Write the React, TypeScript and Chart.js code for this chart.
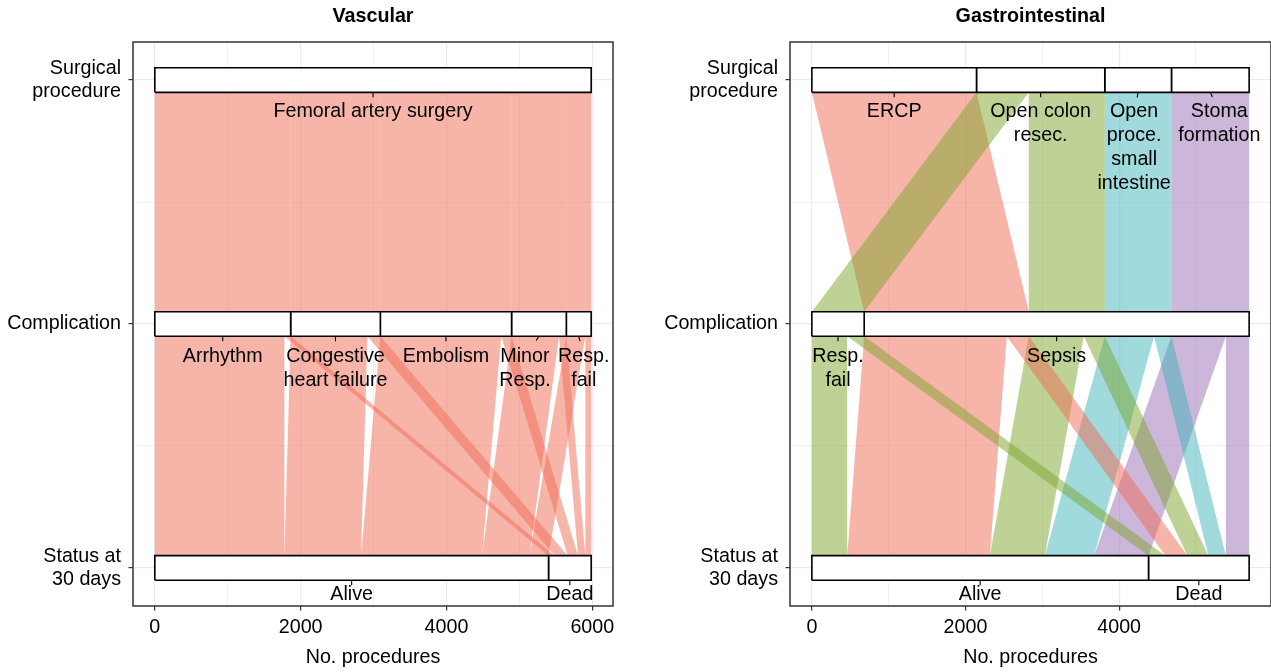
import React, { useEffect, useRef } from 'react';
import { Chart, registerables } from 'chart.js';

Chart.register(...registerables);

// ---------------- data ----------------
const axisTickLabels: (string | string[])[] = [['Surgical', 'procedure'], 'Complication', ['Status at', '30 days']];
const xTickValues = [0, 1000, 2000, 3000, 4000, 5000, 6000];
const xAxisTitle = 'No. procedures';

// Vascular panel
const vascTitle = 'Vascular';
const vascSurgery = ['Femoral artery surgery'];
const vascComplication = ['Arrhythm', 'Congestive\nheart failure', 'Embolism', 'Minor\nResp.', 'Resp.\nfail'];
const vascStatus = ['Alive', 'Dead'];
const vascAliveByComplication = [1777, 1052, 1659, 651, 261];
const vascDeadByComplication = [86, 178, 141, 100, 80];

// Gastrointestinal panel: one entry per alluvium
const giTitle = 'Gastrointestinal';
const giSurgery = ['ERCP', 'Open colon\nresec.', 'Open\nproce.\nsmall\nintestine', 'Stoma\nformation'];
const giComplication = ['Resp.\nfail', 'Sepsis'];
const giStatus = ['Alive', 'Dead'];
const giAlluviumSurgery = [1, 1, 0, 0, 1, 1, 2, 2, 3, 3];
const giAlluviumComplication = [0, 0, 1, 1, 1, 1, 1, 1, 1, 1];
const giAlluviumStatus = [0, 1, 0, 1, 0, 1, 0, 1, 0, 1];
const giAlluviumCount = [460, 221, 1857, 286, 716, 273, 641, 227, 708, 303];

// ---------------- style ----------------
const FONT = "'Liberation Sans', Arial, Helvetica, sans-serif";
const FS = 19.7;
const LINE_H = 24;
const BOX_H = 0.0505;
const Y_PAD = 0.156;
const LABEL_OFFSET = [19, 20.5, 14.5];
const SEG_LEN = 5;
const HUES = ['rgba(239,107,85,0.5)', 'rgba(125,165,45,0.5)', 'rgba(65,181,185,0.5)', 'rgba(153,109,181,0.5)'];
const vascNudge = [[0], [0, 0, 0, -14, 5], [0, 0]];
const giNudge = [[0, 0, -4, 9], [0, 0], [0, 0]];

Chart.defaults.font.family = FONT;

type Alluvium = { s: number[]; n: number };

function cmp(a: number[], b: number[]) {
  for (let i = 0; i < a.length; i++) if (a[i] !== b[i]) return a[i] - b[i];
  return 0;
}

function buildPanel(alluvia: Alluvium[], strata: string[][], colors: string[], nudges: number[][]) {
  const total = alluvia.reduce((p, a) => p + a.n, 0);
  const datasets: any[] = [];
  const labels: any[] = [];
  strata.forEach((names, j) => {
    const level = 2 - j;
    let start = 0;
    names.forEach((name, k) => {
      const size = alluvia.filter((a) => a.s[j] === k).reduce((p, a) => p + a.n, 0);
      const end = start + size;
      datasets.push({
        data: [
          { x: start, y: level - BOX_H },
          { x: end, y: level - BOX_H },
          { x: end, y: level + BOX_H },
          { x: start, y: level + BOX_H },
          { x: start, y: level - BOX_H },
        ],
        backgroundColor: '#ffffff',
        borderColor: '#000000',
        borderWidth: 1.6,
        borderJoinStyle: 'miter',
        fill: 'shape',
        order: 0,
      });
      labels.push({ text: name.split('\n'), value: (start + end) / 2, yEdge: level - BOX_H, offset: LABEL_OFFSET[j], nudge: nudges[j][k] });
      start = end;
    });
  });
  for (let pair = 0; pair < 2; pair++) {
    const keyLen = pair + 2;
    const agg = new Map<string, { s: number[]; n: number }>();
    alluvia.forEach((a) => {
      const s = a.s.slice(0, keyLen);
      const k = s.join(',');
      const e = agg.get(k);
      if (e) e.n += a.n;
      else agg.set(k, { s, n: a.n });
    });
    const flows = [...agg.values()].map((f) => ({ ...f, u0: 0, u1: 0, l0: 0, l1: 0 }));
    const upKey = (f: any) => (pair === 0 ? [f.s[0], f.s[1]] : [f.s[1], f.s[0], f.s[2]]);
    const loKey = (f: any) => (pair === 0 ? [f.s[1], f.s[0]] : [f.s[2], f.s[1], f.s[0]]);
    let c = 0;
    [...flows].sort((a, b) => cmp(upKey(a), upKey(b))).forEach((f) => { f.u0 = c; c += f.n; f.u1 = c; });
    c = 0;
    [...flows].sort((a, b) => cmp(loKey(a), loKey(b))).forEach((f) => { f.l0 = c; c += f.n; f.l1 = c; });
    const yU = 2 - pair - BOX_H;
    const yL = 1 - pair + BOX_H;
    flows.forEach((f) =>
      datasets.push({
        data: [
          { x: f.u0, y: yU },
          { x: f.u1, y: yU },
          { x: f.l1, y: yL },
          { x: f.l0, y: yL },
        ],
        backgroundColor: colors[f.s[0]],
        borderWidth: 0,
        fill: 'shape',
        order: 1,
      })
    );
  }
  return { total, datasets, labels };
}

function vascularPanel() {
  const alluvia: Alluvium[] = [];
  vascComplication.forEach((_, c) => {
    alluvia.push({ s: [0, c, 0], n: vascAliveByComplication[c] });
    alluvia.push({ s: [0, c, 1], n: vascDeadByComplication[c] });
  });
  return buildPanel(alluvia, [vascSurgery, vascComplication, vascStatus], [HUES[0]], vascNudge);
}

function giPanel() {
  const alluvia: Alluvium[] = giAlluviumCount.map((n, i) => ({
    s: [giAlluviumSurgery[i], giAlluviumComplication[i], giAlluviumStatus[i]],
    n,
  }));
  return buildPanel(alluvia, [giSurgery, giComplication, giStatus], HUES, giNudge);
}

function makeOverlay(title: string, labels: any[]) {
  return {
    id: 'alluvialOverlay',
    afterDatasetsDraw(chart: any) {
      const { ctx, chartArea: ca, scales } = chart;
      const xs = scales.x;
      const ys = scales.y;
      ctx.save();
      ctx.strokeStyle = '#333333';
      ctx.lineWidth = 1.5;
      ctx.strokeRect(ca.left, ca.top, ca.right - ca.left, ca.bottom - ca.top);
      ctx.font = `${FS}px ${FONT}`;
      ctx.fillStyle = '#000000';
      ctx.textAlign = 'center';
      ctx.textBaseline = 'middle';
      ctx.strokeStyle = '#000000';
      ctx.lineWidth = 1.1;
      labels.forEach((L) => {
        const cx = xs.getPixelForValue(L.value);
        const yb = ys.getPixelForValue(L.yEdge);
        const lx = cx + L.nudge;
        const ly = yb + L.offset;
        const dx = lx - cx;
        const dy = ly - yb;
        const len = Math.hypot(dx, dy);
        ctx.beginPath();
        ctx.moveTo(cx, yb);
        ctx.lineTo(cx + (dx / len) * SEG_LEN, yb + (dy / len) * SEG_LEN);
        ctx.stroke();
        L.text.forEach((t: string, i: number) => ctx.fillText(t, lx, ly + i * LINE_H));
      });
      ctx.font = `bold ${FS}px ${FONT}`;
      ctx.fillText(title, (ca.left + ca.right) / 2, 17);
      ctx.restore();
    },
  };
}

function Panel(props: { which: 'vasc' | 'gi'; left: number; width: number; yAxisWidth: number; rightPad: number }) {
  const ref = useRef<HTMLCanvasElement>(null);
  useEffect(() => {
    const panel = props.which === 'vasc' ? vascularPanel() : giPanel();
    const title = props.which === 'vasc' ? vascTitle : giTitle;
    const { total, datasets, labels } = panel;
    const tickFont = { family: FONT, size: FS };
    const chart = new Chart(ref.current as HTMLCanvasElement, {
      type: 'line',
      data: { datasets },
      options: {
        responsive: false,
        animation: false,
        devicePixelRatio: 1,
        events: [],
        layout: { padding: { top: 42, right: props.rightPad, bottom: 0, left: 0 } },
        elements: { point: { radius: 0, hoverRadius: 0, hitRadius: 0 }, line: { tension: 0 } },
        plugins: { legend: { display: false }, tooltip: { enabled: false }, title: { display: false } },
        scales: {
          x: {
            type: 'linear',
            min: -0.05 * total,
            max: 1.05 * total,
            afterBuildTicks: (s: any) => {
              s.ticks = xTickValues.filter((v) => v <= s.max).map((v) => ({ value: v }));
            },
            afterFit: (s: any) => { s.height = 66; },
            ticks: {
              autoSkip: false,
              maxRotation: 0,
              padding: 5,
              color: '#000000',
              font: tickFont,
              callback: (v: any) => (Number(v) % 2000 === 0 ? String(v) : ''),
            },
            grid: {
              color: (c: any) => (c.tick && c.tick.value % 2000 === 0 ? '#EBEBEB' : '#F0F0F0'),
              lineWidth: (c: any) => (c.tick && c.tick.value % 2000 === 0 ? 1.2 : 1),
              tickLength: 4.5,
              tickColor: (c: any) => (c.tick && c.tick.value % 2000 === 0 ? '#333333' : 'rgba(0,0,0,0)'),
              tickWidth: 1.2,
            },
            border: { display: false },
            title: { display: true, text: xAxisTitle, color: '#000000', font: tickFont, padding: { top: 0, bottom: 3 } },
          },
          y: {
            type: 'linear',
            min: -Y_PAD,
            max: 2 + Y_PAD,
            afterBuildTicks: (s: any) => {
              s.ticks = [0, 0.5, 1, 1.5, 2].map((v) => ({ value: v }));
            },
            afterFit: (s: any) => { s.width = props.yAxisWidth; },
            ticks: {
              autoSkip: false,
              padding: 7.5,
              color: '#000000',
              font: tickFont,
              callback: (v: any) => (Number.isInteger(Number(v)) ? axisTickLabels[2 - Number(v)] : ''),
            },
            grid: {
              color: (c: any) => (c.tick && Number.isInteger(c.tick.value) ? '#EBEBEB' : '#F0F0F0'),
              lineWidth: (c: any) => (c.tick && Number.isInteger(c.tick.value) ? 1.2 : 1),
              tickLength: 4.5,
              tickColor: (c: any) => (c.tick && Number.isInteger(c.tick.value) ? '#333333' : 'rgba(0,0,0,0)'),
              tickWidth: 1.2,
            },
            border: { display: false },
          },
        },
      } as any,
      plugins: [makeOverlay(title, labels) as any],
    });
    return () => chart.destroy();
  }, []);
  return (
    <canvas
      ref={ref}
      width={props.width}
      height={672}
      style={{ position: 'absolute', left: props.left, top: 0, width: props.width, height: 672 }}
    />
  );
}

export default function App() {
  return (
    <div style={{ position: 'absolute', left: 0, top: 0, width: 1271, height: 672, background: '#ffffff', overflow: 'hidden' }}>
      <Panel which="vasc" left={0} width={640} yAxisWidth={133} rightPad={27} />
      <Panel which="gi" left={640} width={631} yAxisWidth={150} rightPad={0} />
    </div>
  );
}
